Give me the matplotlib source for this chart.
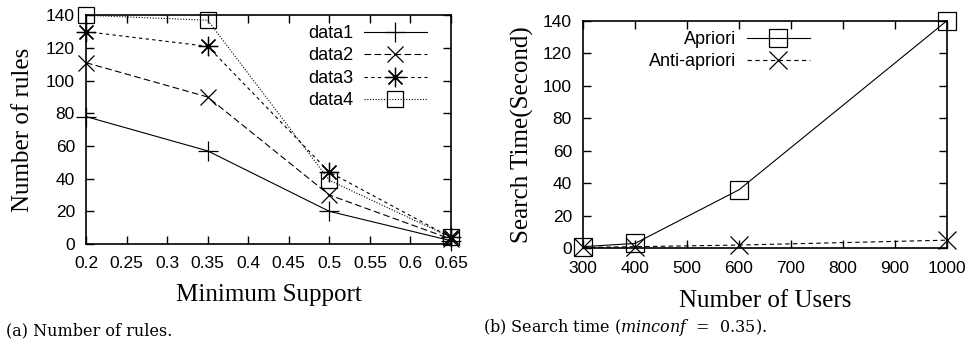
import matplotlib
matplotlib.use("Agg")
import matplotlib.pyplot as plt

# ---- data ----
min_support = [0.2, 0.35, 0.5, 0.65]
data1 = [78, 57, 20, 2]
data2 = [111, 90, 30, 3]
data3 = [130, 121, 44, 4]
data4 = [140, 137, 39, 4]
series_left = ["data1", "data2", "data3", "data4"]

users = [300, 400, 600, 1000]
apriori = [1, 3, 36, 140]
anti_apriori = [0.5, 1, 2, 5]

xticks_left = [0.2, 0.25, 0.3, 0.35, 0.4, 0.45, 0.5, 0.55, 0.6, 0.65]
xtick_labels_left = ["0.2", "0.25", "0.3", "0.35", "0.4", "0.45", "0.5", "0.55", "0.6", "0.65"]
yticks = [0, 20, 40, 60, 80, 100, 120, 140]
xticks_right = [300, 400, 500, 600, 700, 800, 900, 1000]

plt.rcParams['mathtext.fontset'] = 'custom'
plt.rcParams['mathtext.rm'] = 'DejaVu Serif'
plt.rcParams['mathtext.it'] = 'DejaVu Serif:italic'

SANS = 'Liberation Sans'
SERIF = 'Liberation Serif'
CAPF = 'DejaVu Serif'
TICK_FS = 12.5
LEG_FS = 13
LAB_FS = 18
CAP_FS = 11.5

fig = plt.figure(figsize=(9.75, 3.41), dpi=100)
W, H = 975, 341
axL = fig.add_axes([86 / W, 1 - 244 / H, (451 - 86) / W, (244 - 15.3) / H])
axR = fig.add_axes([583 / W, 1 - 248.3 / H, (947 - 583) / W, (248.3 - 20.7) / H])

asterisk = (8, 2, 0)
styles_left = [
    dict(marker='+', linestyle='-', ms=14, mew=0.9),
    dict(marker='x', linestyle=(0, (6, 3)), ms=12, mew=0.9),
    dict(marker=asterisk, linestyle=(0, (3, 3)), ms=14, mew=0.9),
    dict(marker='s', linestyle=(0, (1, 1.5)), ms=12, mew=0.9, mfc='none'),
]
for name, vals, st in zip(series_left, [data1, data2, data3, data4], styles_left):
    axL.plot(min_support, vals, color='black', lw=0.8, label=name, clip_on=False, **st)

axR.plot(users, apriori, color='black', lw=0.8, marker='s', ms=13, mfc='none', mew=0.9,
         linestyle='-', label='Apriori', clip_on=False)
axR.plot(users, anti_apriori, color='black', lw=0.8, marker='x', ms=13, mew=0.9,
         linestyle=(0, (4, 3)), label='Anti-apriori', clip_on=False)

for ax in (axL, axR):
    ax.set_ylim(0, 140)
    ax.set_yticks(yticks)
    ax.tick_params(direction='in', length=6, width=1.0, top=True, right=True,
                   labelsize=TICK_FS)
    for s in ax.spines.values():
        s.set_linewidth(1.2)
    ax.tick_params(axis='x', pad=9)
    ax.tick_params(axis='y', pad=8)

axL.set_xlim(0.2, 0.65)
axL.set_xticks(xticks_left)
axL.set_xticklabels(xtick_labels_left, fontfamily=SANS, fontsize=TICK_FS)
axL.set_yticklabels([str(v) for v in yticks], fontfamily=SANS, fontsize=TICK_FS)
axR.set_xlim(300, 1000)
axR.set_xticks(xticks_right)
axR.set_xticklabels([str(v) for v in xticks_right], fontfamily=SANS, fontsize=TICK_FS)
axR.set_yticklabels([str(v) for v in yticks], fontfamily=SANS, fontsize=TICK_FS)

axL.set_xlabel("Minimum Support", fontfamily=SERIF, fontsize=LAB_FS)
axL.set_ylabel("Number of rules", fontfamily=SERIF, fontsize=LAB_FS)
axR.set_xlabel("Number of Users", fontfamily=SERIF, fontsize=LAB_FS)
axR.set_ylabel("Search Time(Second)", fontfamily=SERIF, fontsize=LAB_FS)
axL.xaxis.set_label_coords(0.5, (244 - 284) / 228.7)
axL.yaxis.set_label_coords((34 - 86) / 365, 0.5)
axR.xaxis.set_label_coords(0.5, (248.3 - 290) / 227.6)
axR.yaxis.set_label_coords((534 - 583) / 364, 0.5)

legL = axL.legend(loc='upper right', bbox_to_anchor=((427 - 86) / 365, 1 - (25 - 15.3) / 228.7),
                  frameon=False, markerfirst=False, borderpad=0, borderaxespad=0,
                  handlelength=3.5, handletextpad=0.6, labelspacing=0.3,
                  prop={'family': SANS, 'size': LEG_FS})
legR = axR.legend(loc='upper right', bbox_to_anchor=((810 - 583) / 364, 1 - (31 - 20.7) / 227.6),
                  frameon=False, markerfirst=False, borderpad=0, borderaxespad=0,
                  handlelength=3.5, handletextpad=0.6, labelspacing=0.3,
                  prop={'family': SANS, 'size': LEG_FS})

fig.text(6 / W, 1 - 331 / H, "(a) Number of rules.", fontfamily=CAPF, fontsize=CAP_FS,
         ha='left', va='center')
fig.text(483 / W, 1 - 328 / H, r"(b) Search time ($\it{minconf}$  =  0.35).", fontfamily=CAPF,
         fontsize=CAP_FS, ha='left', va='center')

fig.savefig("out.png", dpi=100)
